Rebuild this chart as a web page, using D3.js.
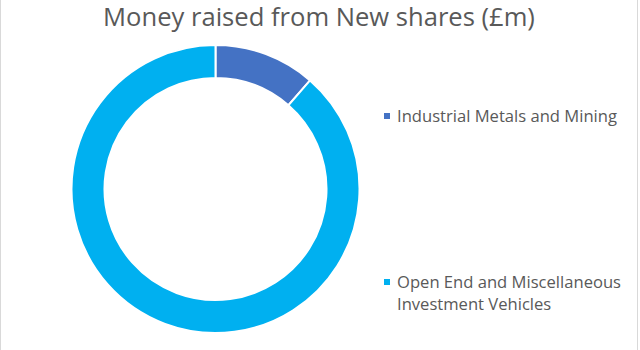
<!DOCTYPE html>
<html><head><meta charset="utf-8">
<script src="https://cdn.jsdelivr.net/npm/d3@7"></script>
<style>html,body{margin:0;padding:0;background:#fff;}svg{display:block;}</style>
</head><body>
<svg id="c" width="640" height="350"></svg>
<script>
const categories = ["Industrial Metals and Mining", "Open End and Miscellaneous Investment Vehicles"];
const values = [11.4, 88.6];
const colors = ["#4472C4", "#00B0F0"];
const title = "Money raised from New shares (£m)";

const svg = d3.select("#c");
const W = 640, H = 350;
svg.append("rect").attr("width", W).attr("height", H).attr("fill", "#fff");
svg.append("line").attr("x1", 0.5).attr("x2", 0.5).attr("y1", 0).attr("y2", H).attr("stroke", "#d9d9d9");
svg.append("line").attr("x1", 637.5).attr("x2", 637.5).attr("y1", 0).attr("y2", H).attr("stroke", "#d9d9d9");

const font = "'Open Sans', sans-serif";
function fitSize(text, fs0, target) {
  const tmp = svg.append("text").attr("font-family", font).attr("font-size", fs0).text(text);
  const w = tmp.node().getComputedTextLength();
  tmp.remove();
  return fs0 * target / w;
}

const titleSize = fitSize(title, 24, 432);
svg.append("text").attr("x", 319).attr("y", 25.5).attr("text-anchor", "middle")
  .attr("font-family", font).attr("font-size", titleSize.toFixed(2)).attr("fill", "#595959").text(title);

const cx = 215.5, cy = 189, rOuter = 144, rInner = 111;
const pie = d3.pie().sort(null).value(d => d)(values);
const arc = d3.arc().innerRadius(rInner).outerRadius(rOuter);
const g = svg.append("g").attr("transform", `translate(${cx},${cy})`);
g.selectAll("path").data(pie).join("path")
  .attr("d", arc).attr("fill", (d, i) => colors[i])
  .attr("stroke", "#fff").attr("stroke-width", 2);

// legend
const legSize = fitSize(categories[0], 14, 220);
const leg = svg.append("g");
const rows = [
  {lines: ["Industrial Metals and Mining"], y: 116},
  {lines: ["Open End and Miscellaneous", "Investment Vehicles"], y: 282}
];
rows.forEach((r, i) => {
  leg.append("rect").attr("x", 384).attr("y", r.y - 3).attr("width", 6).attr("height", 6).attr("fill", colors[i]);
  r.lines.forEach((ln, j) => {
    leg.append("text").attr("x", 397).attr("y", r.y + 5.5 + j * 22)
      .attr("font-family", font).attr("font-size", legSize.toFixed(2)).attr("fill", "#595959").text(ln);
  });
});
</script>
</body></html>
